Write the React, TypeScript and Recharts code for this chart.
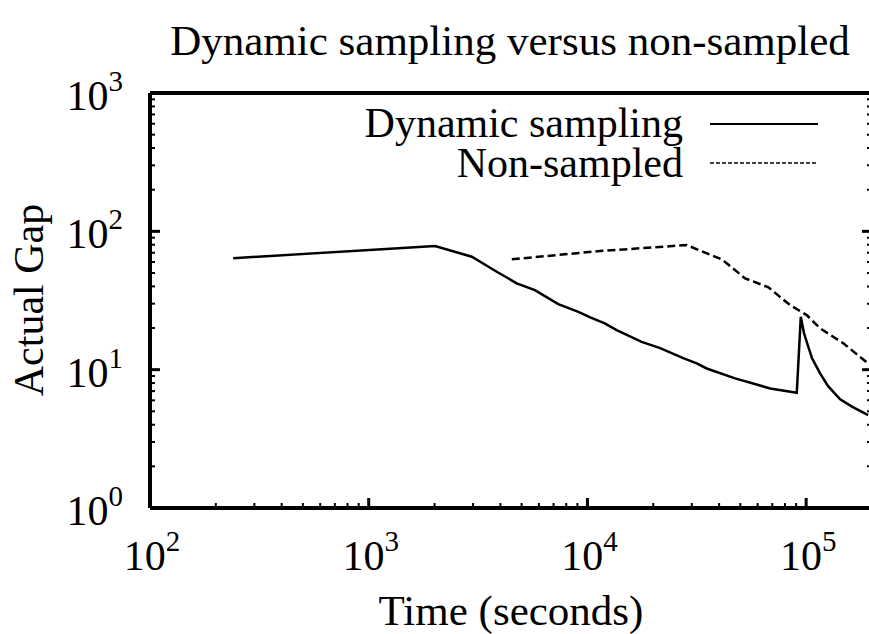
import React from "react";
import { LineChart, Line, XAxis, YAxis } from "recharts";

const dynamicTime = [240, 1100, 2010, 2960, 3850, 4750, 5750, 7360, 9090, 10300, 12000, 13600, 17700, 21500, 27400, 31600, 35100, 47300, 68400, 90600, 94500, 97700, 102300, 106400, 115800, 126000, 143000, 162000, 192000];
const dynamicGap = [64, 74, 78.3, 65.5, 51, 42.1, 37.6, 29.8, 26.2, 23.9, 21.6, 19.3, 15.9, 14.3, 12.1, 11.1, 10.2, 8.65, 7.32, 6.81, 24.1, 18.4, 14.6, 12.1, 9.4, 7.6, 6.1, 5.4, 4.7];

const nonSampledTime = [4510, 11400, 28400, 41100, 52600, 67200, 84400, 100600, 115800, 148000, 192000];
const nonSampledGap = [62.8, 72, 79.6, 62.8, 45.7, 39.4, 29.3, 24.8, 19.9, 15.5, 11.1];

const xMajorTicks = [100, 1000, 10000, 100000];
const xMajorLabels = ["2", "3", "4", "5"];
const yMajorTicks = [1, 10, 100, 1000];
const yMajorLabels = ["0", "1", "2", "3"];
const minorSteps = [2, 3, 4, 5, 6, 7, 8, 9];

const X_MAX = 200000;

const xTicks = xMajorTicks.flatMap((d) => [d, ...minorSteps.map((m) => m * d)]).filter((v) => v <= X_MAX);
const yTicks = yMajorTicks.flatMap((d) => (d < 1000 ? [d, ...minorSteps.map((m) => m * d)] : [d]));

const dynamicData = dynamicTime.map((t, i) => ({ t, gap: dynamicGap[i] }));
const nonSampledData = nonSampledTime.map((t, i) => ({ t, gap: nonSampledGap[i] }));

const FONT = "Liberation Serif, Times New Roman, Times, DejaVu Serif, serif";
const txt = { fontFamily: FONT };
const MAJOR_LEN = 10;
const MINOR_LEN = 5;

function XTick({ x, y, payload, top }: any) {
  const v = payload.value;
  const idx = xMajorTicks.indexOf(v);
  const major = idx >= 0;
  const len = major ? MAJOR_LEN : MINOR_LEN;
  const dir = top ? 1 : -1;
  return (
    <g>
      <line x1={x} x2={x} y1={y} y2={y + dir * len} stroke="#000" strokeWidth={major ? 3 : 2} />
      {major && !top && (
        <text x={x + 2} y={y + 62} textAnchor="middle" fontSize={42} style={txt} fill="#000">
          10
          <tspan dy={-19} fontSize={29}>
            {xMajorLabels[idx]}
          </tspan>
        </text>
      )}
    </g>
  );
}

function YTick({ x, y, payload, right }: any) {
  const v = payload.value;
  const idx = yMajorTicks.indexOf(v);
  const major = idx >= 0;
  const len = major ? MAJOR_LEN : MINOR_LEN;
  const dir = right ? -1 : 1;
  return (
    <g>
      <line x1={x} x2={x + dir * len} y1={y} y2={y} stroke="#000" strokeWidth={major ? 3 : 2} />
      {major && !right && (
        <text x={x - 27} y={y + 17} textAnchor="end" fontSize={42} style={txt} fill="#000">
          10
          <tspan dy={-19} fontSize={29}>
            {yMajorLabels[idx]}
          </tspan>
        </text>
      )}
    </g>
  );
}

const series = [
  { name: "Dynamic sampling", data: dynamicData, dash: undefined, legendDash: undefined, legendWidth: 2.2 },
  { name: "Non-sampled", data: nonSampledData, dash: "8 4", legendDash: "4 2", legendWidth: 1.6 },
];

const axisLine = { stroke: "#000", strokeWidth: 4 };

export default function App() {
  return (
    <div style={{ position: "absolute", left: 0, top: 0, width: 869, height: 634, overflow: "hidden", background: "#fff" }}>
      <LineChart width={880} height={634} margin={{ top: 92, right: 0, bottom: 0, left: 0 }}>
        <XAxis
          dataKey="t"
          type="number"
          scale="log"
          domain={[100, X_MAX]}
          allowDataOverflow
          ticks={xTicks}
          interval={0}
          height={126}
          tickSize={0}
          tickMargin={0}
          tickLine={false}
          axisLine={axisLine}
          tick={<XTick />}
        />
        <XAxis
          xAxisId="top"
          orientation="top"
          type="number"
          scale="log"
          domain={[100, X_MAX]}
          allowDataOverflow
          ticks={xTicks}
          interval={0}
          height={1}
          tickSize={0}
          tickMargin={0}
          tickLine={false}
          axisLine={axisLine}
          tick={<XTick top />}
        />
        <YAxis
          type="number"
          scale="log"
          domain={[1, 1000]}
          allowDataOverflow
          ticks={yTicks}
          interval={0}
          width={150}
          tickSize={0}
          tickMargin={0}
          tickLine={false}
          axisLine={axisLine}
          tick={<YTick />}
        />
        <YAxis
          yAxisId="right"
          orientation="right"
          type="number"
          scale="log"
          domain={[1, 1000]}
          allowDataOverflow
          ticks={yTicks}
          interval={0}
          width={8}
          tickSize={0}
          tickMargin={0}
          tickLine={false}
          axisLine={axisLine}
          tick={<YTick right />}
        />
        {series.map((s) => (
          <Line
            key={s.name}
            data={s.data}
            dataKey="gap"
            name={s.name}
            type="linear"
            stroke="#000"
            strokeWidth={2.5}
            strokeDasharray={s.dash}
            dot={false}
            isAnimationActive={false}
          />
        ))}
      </LineChart>
      <svg width={869} height={634} style={{ position: "absolute", left: 0, top: 0, pointerEvents: "none" }}>
        <text x={510} y={55} textAnchor="middle" fontSize={43} style={txt} fill="#000">
          Dynamic sampling versus non-sampled
        </text>
        <text x={511} y={625} textAnchor="middle" fontSize={43} style={txt} fill="#000">
          Time (seconds)
        </text>
        <text transform="translate(43,300) rotate(-90)" textAnchor="middle" fontSize={42} style={txt} fill="#000">
          Actual Gap
        </text>
        {series.map((s, i) => (
          <g key={s.name}>
            <text x={683} y={137 + i * 40} textAnchor="end" fontSize={42} style={txt} fill="#000">
              {s.name}
            </text>
            <line x1={710} x2={818} y1={124 + i * 39} y2={124 + i * 39} stroke="#000" strokeWidth={s.legendWidth} strokeDasharray={s.legendDash} />
          </g>
        ))}
      </svg>
    </div>
  );
}
